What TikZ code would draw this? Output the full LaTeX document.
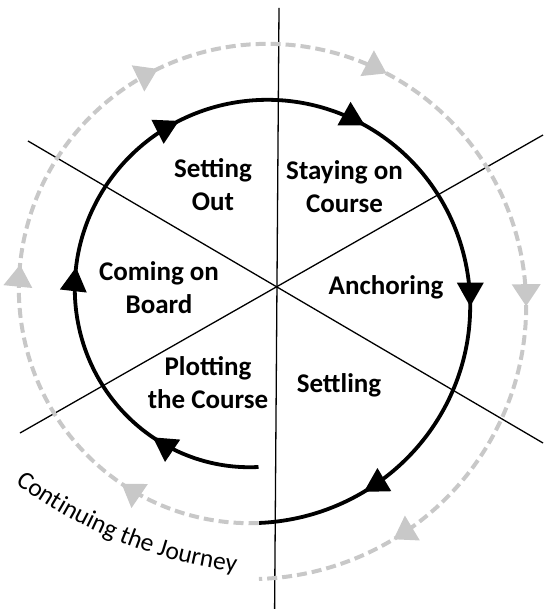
\documentclass[tikz,border=0pt]{standalone}
\usepackage{fontspec}
\setmainfont{Carlito}
\usetikzlibrary{arrows.meta,decorations.markings,decorations.text}
\definecolor{trailgray}{RGB}{200,200,200}
\tikzset{
  sector/.style={font=\fontsize{27}{33}\selectfont\bfseries, align=center, inner sep=0pt},
  divider/.style={line width=1.3pt},
  course/.style={line width=3.8pt, >={Triangle[length=24pt,width=26pt]}},
  trail/.style={trailgray, line width=4pt, dash pattern=on 10pt off 5pt, >={Triangle[length=22pt,width=28pt]}},
}
\begin{document}
\begin{tikzpicture}[x=1pt,y=-1pt]
\useasboundingbox (0,0) rectangle (543,609);

\coordinate (hub) at (277,287);
\coordinate (n) at (279,8);
\coordinate (s) at (274.6,609);
\coordinate (nw) at (28,141);
\coordinate (se) at (543,443);
\coordinate (sw) at (20,433);
\coordinate (ne) at (543,135);
\draw[divider] (n) -- (s);
\draw[divider] (nw) -- (se);
\draw[divider] (sw) -- (ne);

\draw[course, decoration={markings,
    mark=at position 0.090 with {\arrow{>}},
    mark=at position 0.248 with {\arrow{>}},
    mark=at position 0.398 with {\arrow{>}},
    mark=at position 0.554 with {\arrow{>}},
    mark=at position 0.731 with {\arrow{>}},
    mark=at position 0.911 with {\arrow{>}}}, postaction={decorate}]
  plot[domain=0:1, samples=181, smooth] ({258.5+(169.5+56*\x)*cos(90+360*\x)}, {297.5+(169.5+56*\x)*sin(90+360*\x)});

\draw[trail, decoration={markings,
    mark=at position 0.091 with {\arrow{>}},
    mark=at position 0.250 with {\arrow{>}},
    mark=at position 0.407 with {\arrow{>}},
    mark=at position 0.556 with {\arrow{>}},
    mark=at position 0.735 with {\arrow{>}},
    mark=at position 0.911 with {\arrow{>}}}, postaction={decorate}]
  plot[domain=0:1, samples=181, smooth] ({258.5+(225.5+56*\x)*cos(90+360*\x)}, {297.5+(225.5+56*\x)*sin(90+360*\x)});

\node[sector] (setout) at (213,185) {Setting\\Out};
\node[sector] (staying) at (344.5,187) {Staying on\\Course};
\node[sector] (anchor) at (386,287) {Anchoring};
\node[sector] (coming) at (159,288) {Coming on\\Board};
\node[sector] (plotting) at (208,383) {Plotting\\the Course};
\node[sector] (settling) at (339,385) {Settling};

\path[decorate, decoration={text along path, text align=center,
    text={|\fontsize{25.5}{30}\selectfont|Continuing the Journey}}]
  plot[domain=126.5:97.5, samples=40] ({296+470*cos(\x)}, {106+470*sin(\x)});
\end{tikzpicture}
\end{document}
